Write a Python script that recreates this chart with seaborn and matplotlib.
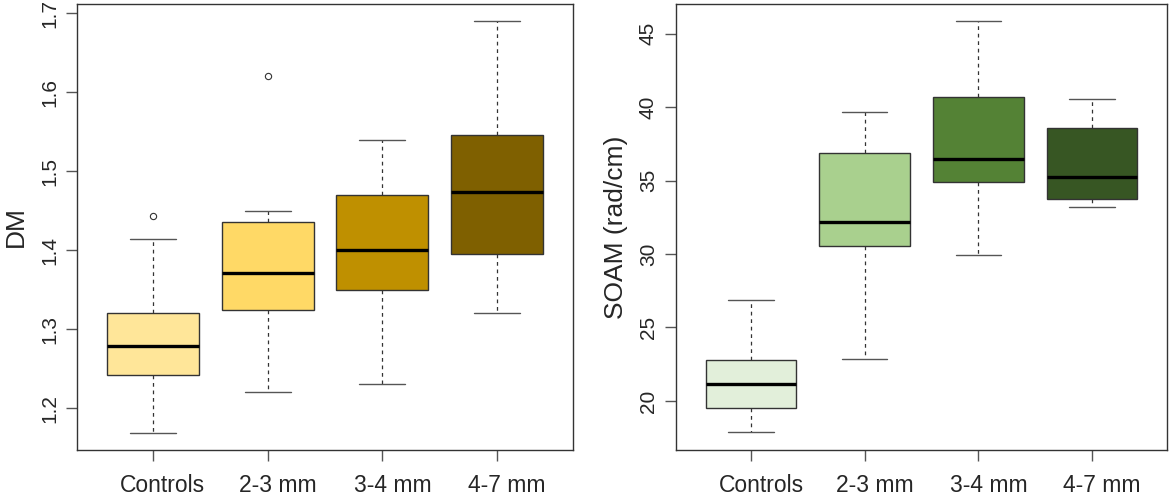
import numpy as np
import matplotlib
matplotlib.use("Agg")
from matplotlib import pyplot as plt
from matplotlib.transforms import ScaledTranslation
import seaborn as sns

categories = ["Controls", "2-3 mm", "3-4 mm", "4-7 mm"]

# DM five-number summaries + outliers
dm_low = [1.169, 1.220, 1.231, 1.320]
dm_q1 = [1.242, 1.3245, 1.349, 1.395]
dm_med = [1.278, 1.3705, 1.400, 1.474]
dm_q3 = [1.320, 1.435, 1.470, 1.545]
dm_high = [1.414, 1.450, 1.539, 1.6895]
dm_out = [[1.443], [1.620], [], []]

# SOAM (rad/cm)
soam_low = [17.87, 22.84, 29.92, 33.19]
soam_q1 = [19.50, 30.57, 34.89, 33.75]
soam_med = [21.18, 32.19, 36.47, 35.27]
soam_q3 = [22.77, 36.90, 40.67, 38.56]
soam_high = [26.86, 39.65, 45.87, 40.52]
soam_out = [[], [], [], []]

dm_colors = ["#FFE699", "#FFD966", "#BF9000", "#7F6000"]
soam_colors = ["#E2EFDA", "#A9D08E", "#548235", "#375623"]

sns.set_style("ticks")
plt.rcParams['font.family'] = ['Liberation Sans', 'DejaVu Sans']


def make_stats(low, q1, med, q3, high, out):
    return [dict(whislo=a, q1=b, med=c, q3=d, whishi=e, fliers=f)
            for a, b, c, d, e, f in zip(low, q1, med, q3, high, out)]


def draw(ax, stats, colors, ylabel, ylim, yticks, label_x):
    bp = ax.bxp(stats, positions=range(len(stats)), widths=0.8,
                patch_artist=True, showfliers=True,
                boxprops=dict(edgecolor="#333333", linewidth=1.0),
                medianprops=dict(color="black", linewidth=2.4, solid_capstyle="butt"),
                whiskerprops=dict(color="#333333", linewidth=0.9, linestyle=(0, (3, 3))),
                capprops=dict(color="#555555", linewidth=1.0),
                capwidths=0.4,
                flierprops=dict(marker="o", markersize=4.5, markerfacecolor="none",
                                markeredgecolor="#333333", markeredgewidth=0.8))
    for patch, c in zip(bp['boxes'], colors):
        patch.set_facecolor(c)
    ax.set_xlim(-0.66, len(stats) - 1 + 0.66)
    ax.set_ylim(*ylim)
    ax.set_yticks(yticks)
    ax.set_xticks(range(len(stats)))
    ax.set_xticklabels(categories)
    ax.tick_params(axis='x', length=8, width=1, color="#555555", pad=9, labelsize=16.5)
    ax.tick_params(axis='y', length=8, width=1, color="#555555", pad=5, labelsize=15,
                   labelrotation=90)
    # labels sit a bit right of the ticks in the original
    shift = ScaledTranslation(0.10, 0, ax.figure.dpi_scale_trans)
    for lab in ax.get_xticklabels():
        lab.set_transform(lab.get_transform() + shift)
    for lab in ax.get_yticklabels():
        lab.set_va('center')
    ax.set_ylabel(ylabel, fontsize=19)
    ax.yaxis.set_label_coords(label_x, 0.5)
    for s in ax.spines.values():
        s.set_color("#333333")
        s.set_linewidth(1.0)


fig = plt.figure(figsize=(11.72, 4.98), dpi=100)
ax1 = fig.add_axes([77 / 1172, 48 / 498, 496 / 1172, 446 / 498])
ax2 = fig.add_axes([676 / 1172, 48 / 498, 491 / 1172, 446 / 498])

draw(ax1, make_stats(dm_low, dm_q1, dm_med, dm_q3, dm_high, dm_out), dm_colors,
     "DM", (1.147, 1.7114), [1.2, 1.3, 1.4, 1.5, 1.6, 1.7], -0.099)
ax1.set_yticklabels(["1.2", "1.3", "1.4", "1.5", "1.6", "1.7"])
draw(ax2, make_stats(soam_low, soam_q1, soam_med, soam_q3, soam_high, soam_out), soam_colors,
     "SOAM (rad/cm)", (16.66, 47.02), [20, 25, 30, 35, 40, 45], -0.098)

fig.savefig("out.png", dpi=100)
